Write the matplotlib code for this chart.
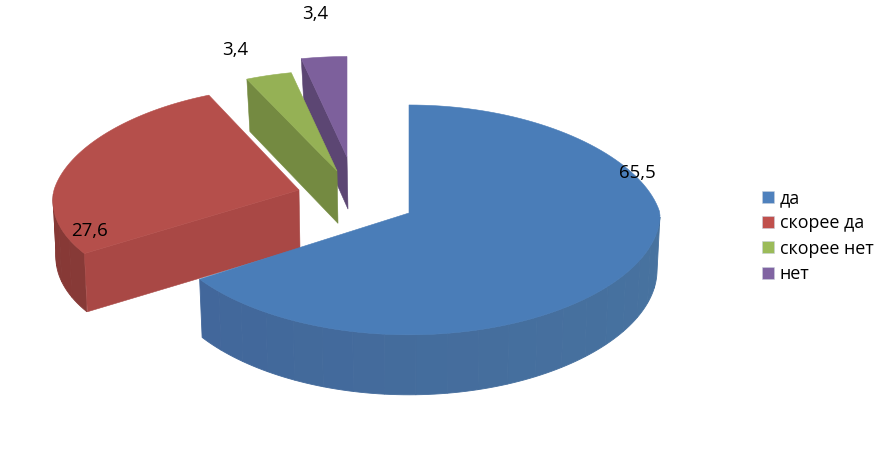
"""Круговая 3D-диаграмма с выдвинутыми секторами."""
import numpy as np
import matplotlib
matplotlib.use("Agg")
import matplotlib.pyplot as plt
from matplotlib.patches import Patch
from matplotlib.colors import to_rgb

labels = ["да", "скорее да", "скорее нет", "нет"]
values = [65.5, 27.6, 3.4, 3.4]

# оформление: цвета верха, среза и боковой дуги
top_colors = ["#4A7DB8", "#B54F4B", "#95B155", "#7D609C"]
face_colors = ["#41699E", "#A94845", "#748A41", "#5C4673"]
rim_left = ["#41669A", "#863936", "#748A41", "#5C4673"]
rim_right = ["#47729F", "#964140", "#748A41", "#5C4673"]
legend_colors = ["#4F81BD", "#C0504D", "#9BBB59", "#8064A2"]

# вершины секторов (пиксели) и параметры проекции
tips = [(409, 213), (299, 190), (337, 171), (347, 157)]
rx = [251, 245, 245, 245]
k_front = [0.01, 0.095, 0.095, 0.095]
y_scale = [1.0, 0.96, 0.93, 0.93]
label_pos = [(637, 173), (89, 231), (235, 50), (315, 14)]
RY = 114.5
K_BACK, KY = 0.14, 0.06


def project(ang, i):
    """Угол по часовой от 12 часов -> точка верхней грани сектора i."""
    u, v = np.sin(ang), np.cos(ang)
    kx = np.where(v > 0, K_BACK, k_front[i])
    x = tips[i][0] + rx[i] * u / (1 + kx * v)
    y = tips[i][1] - RY * y_scale[i] * v / (1 + KY * v)
    return x, y


def depth(ang):
    return 56 - 4 * np.cos(ang)


def mix(c1, c2, t):
    a, b = np.array(to_rgb(c1)), np.array(to_rgb(c2))
    return tuple(a + (b - a) * t)


fig = plt.figure(figsize=(8.84, 4.49), dpi=100)
ax = fig.add_axes([0, 0, 1, 1])
ax.set_xlim(0, 884)
ax.set_ylim(449, 0)
ax.axis("off")

total = sum(values)
edges = np.radians(np.cumsum([0] + values) / total * 360)

# задние секторы рисуем первыми, синий последним
for i in [3, 2, 1, 0]:
    tip = tips[i]
    a0, a1 = edges[i], edges[i + 1]

    # боковая дуга полосами, только передняя половина
    lo, hi = max(a0, np.radians(92)), min(a1, np.radians(268))
    if hi > lo:
        steps = np.linspace(lo, hi, max(int(np.degrees(hi - lo) / 7), 2) + 1)
        for s0, s1 in zip(steps[:-1], steps[1:]):
            fine = np.linspace(s0, s1, 6)
            xs, yt = project(fine, i)
            yb = yt + depth(fine)
            t = (np.sin((s0 + s1) / 2) + 1) / 2
            col = mix(rim_left[i], rim_right[i], t)
            ax.fill(np.r_[xs, xs[::-1] - 3 * np.sin(fine[::-1])],
                    np.r_[yt, yb[::-1]], color=col, lw=0.6, zorder=5 - i)

    # срез по начальному радиусу (у синего не виден)
    if i > 0:
        cx, cy = project(a0, i)
        ax.fill([tip[0], cx, cx + 3, tip[0] + 1],
                [tip[1], cy, cy + depth(a0), tip[1] + depth(a0)],
                color=face_colors[i], lw=0.4, zorder=5 - i)

    # верхняя грань
    arc = np.linspace(a0, a1, 120)
    xs, ys_arc = project(arc, i)
    ax.fill(np.r_[tip[0], xs], np.r_[tip[1], ys_arc],
            color=top_colors[i], lw=0.4, zorder=5 - i)

for val, (lx, ly) in zip(values, label_pos):
    ax.text(lx, ly, f"{val}".replace(".", ","), ha="center", va="center",
            fontsize=13.4, family="Open Sans", color="black", zorder=10)

handles = [Patch(facecolor=c, edgecolor="#c8d0dc", lw=0.4) for c in legend_colors]
ax.legend(handles, labels, loc="center left", bbox_to_anchor=(762 / 884, 1 - 236 / 449),
          frameon=False, prop={"family": "Open Sans", "size": 12.9},
          handlelength=0.67, handleheight=0.67, handletextpad=0.33,
          labelspacing=0.41, borderpad=0, borderaxespad=0)

fig.savefig("out.png", dpi=100)
